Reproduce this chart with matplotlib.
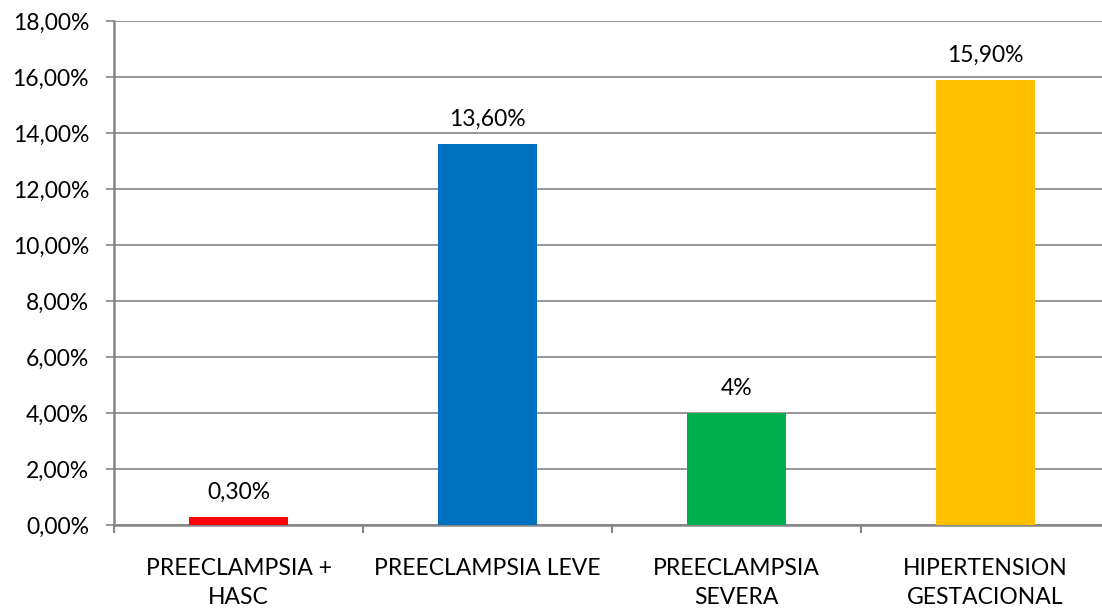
#!/usr/bin/env python3
import numpy as np
import matplotlib
matplotlib.use("Agg")
import matplotlib.pyplot as plt

categories = ["PREECLAMPSIA +\nHASC", "PREECLAMPSIA LEVE",
              "PREECLAMPSIA\nSEVERA", "HIPERTENSION\nGESTACIONAL"]
values = [0.30, 13.60, 4.0, 15.90]
value_labels = ["0,30%", "13,60%", "4%", "15,90%"]
colors = ["#FF0000", "#0070C0", "#00B050", "#FFC000"]
y_ticks = np.arange(0, 20, 2)

plt.rcParams['font.family'] = ['Lato', 'DejaVu Sans']
grey = "#868686"
fs = 16.5

fig = plt.figure(figsize=(11.02, 6.13), dpi=100)
ax = fig.add_axes([114/1102, 88/613, 996/1102, 504/613])

x = np.arange(len(categories))
ax.bar(x, values, width=0.4, color=colors, zorder=3)
for xi, v, lab in zip(x, values, value_labels):
    ax.annotate(lab, (xi, v), xytext=(0, 10), textcoords="offset points",
                ha="center", va="bottom", fontsize=fs, color="#000000")

ax.set_xlim(-0.5, len(categories) - 0.5)
ax.set_ylim(0, 18)
ax.set_yticks(y_ticks)
ax.set_yticklabels([f"{t:.2f}%".replace(".", ",") for t in y_ticks], fontsize=fs)
ax.yaxis.grid(True, color=grey, linewidth=1.2, zorder=0)

# boundaries get the tick marks, centers get the labels
ax.set_xticks(np.arange(len(categories) + 1) - 0.5)
ax.set_xticklabels([])
ax.set_xticks(x, minor=True)
ax.set_xticklabels(categories, minor=True, fontsize=fs, linespacing=1.45)
ax.tick_params(axis="x", which="minor", length=0, pad=24)
ax.tick_params(axis="x", which="major", length=6, width=1.5, color=grey)
ax.tick_params(axis="y", length=6, width=1.2, color=grey, pad=12)

for s in ["top", "right"]:
    ax.spines[s].set_visible(False)
for s in ["left", "bottom"]:
    ax.spines[s].set_color(grey)
    ax.spines[s].set_linewidth(1.8)

fig.savefig("out.png", dpi=100)
